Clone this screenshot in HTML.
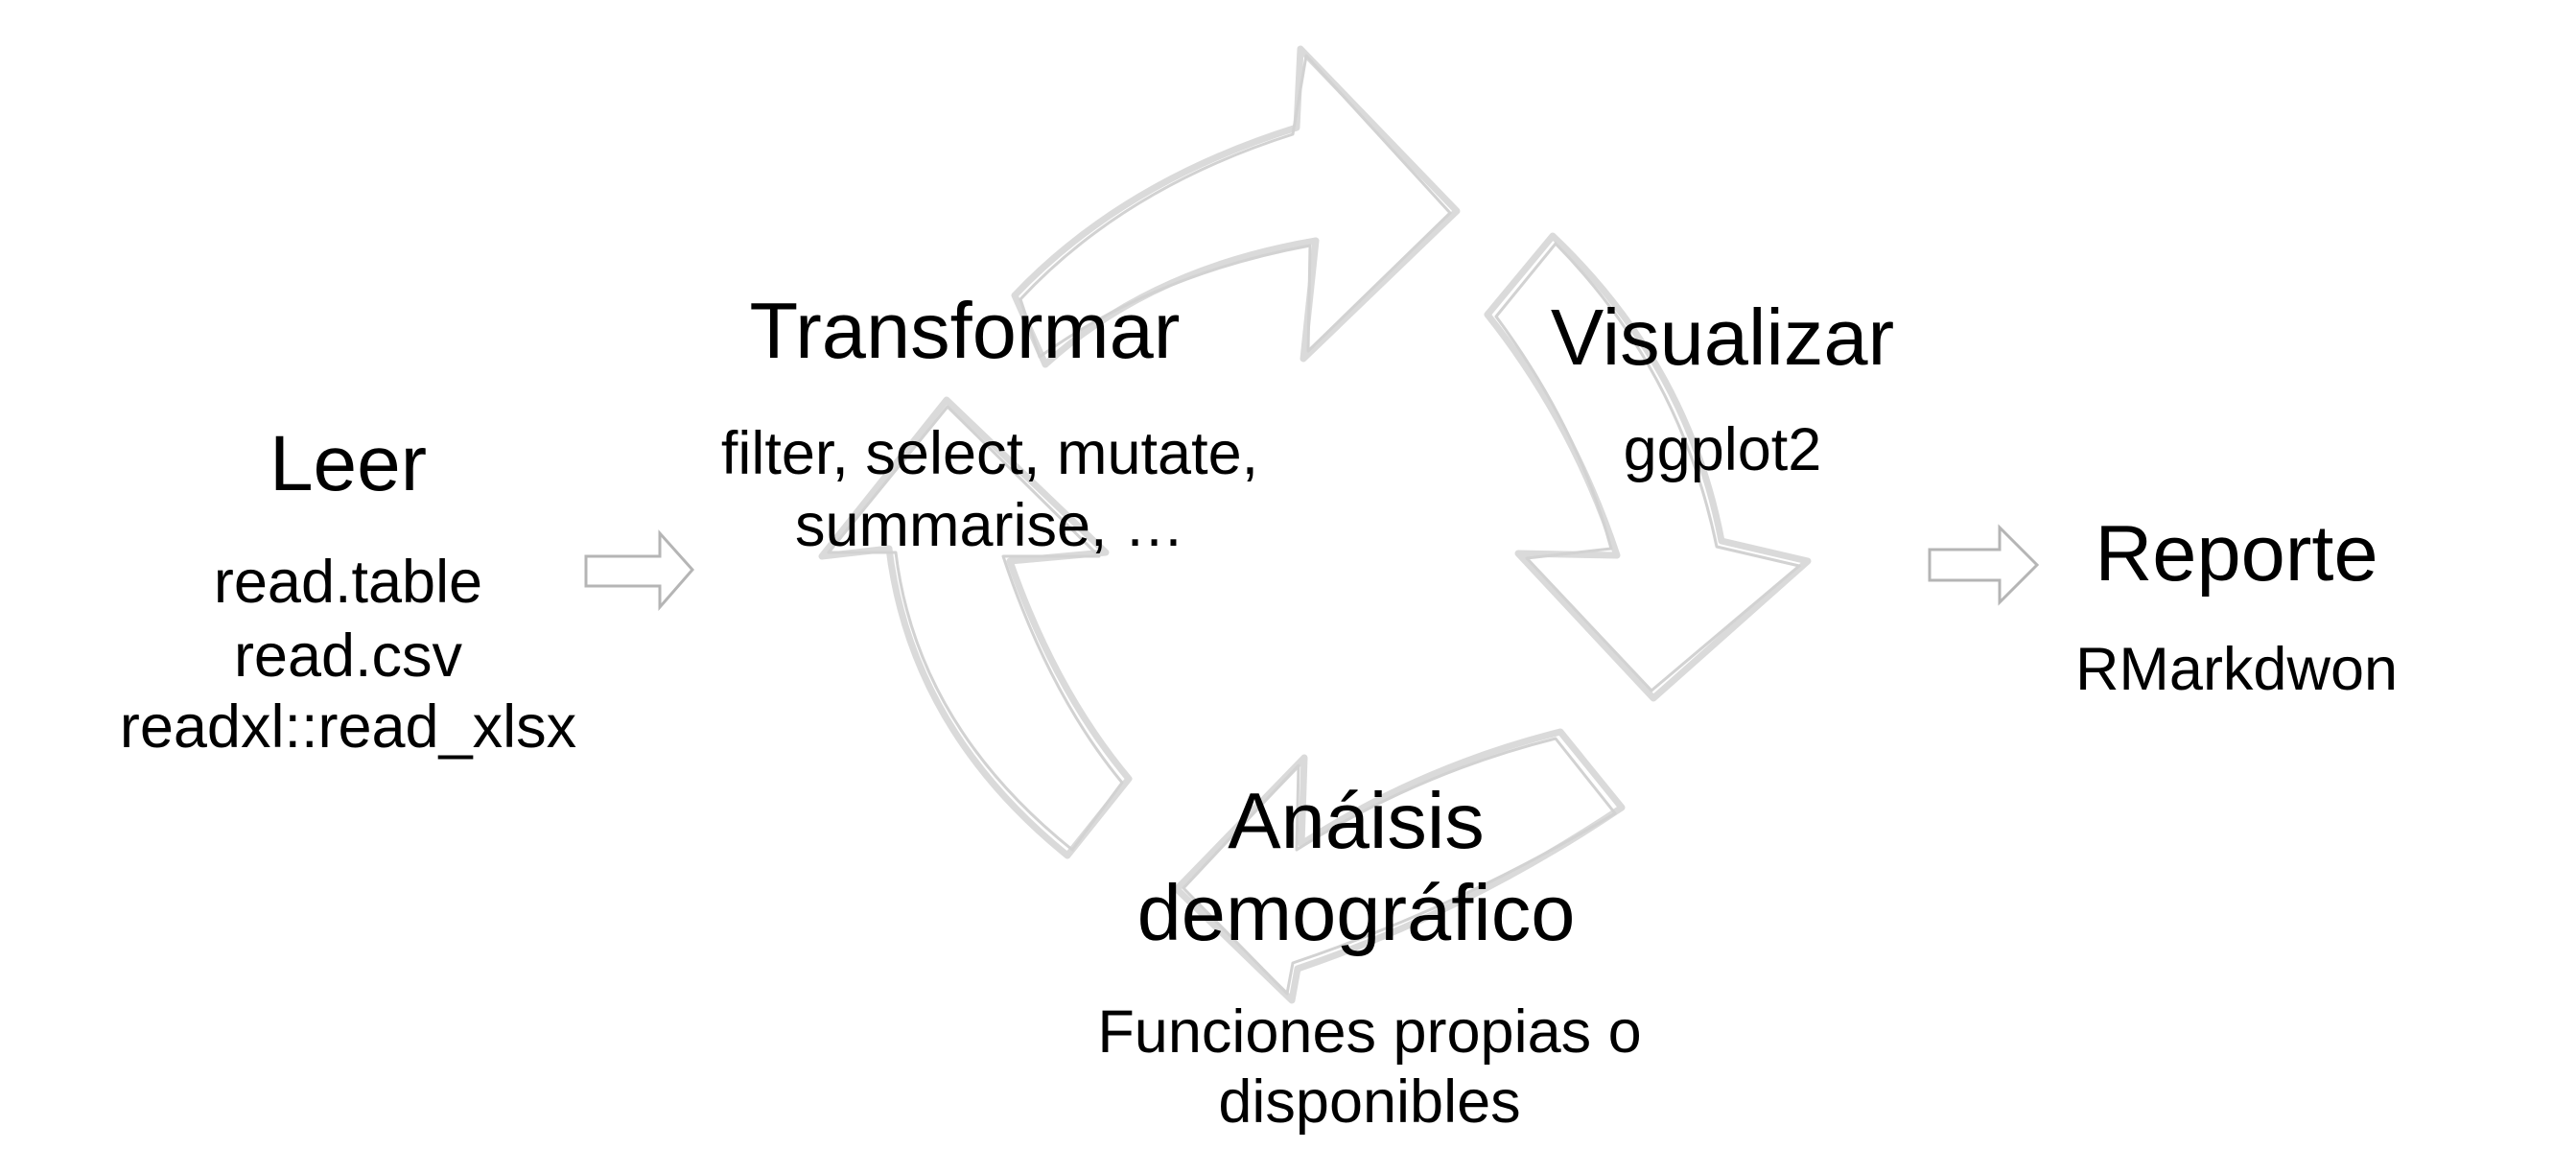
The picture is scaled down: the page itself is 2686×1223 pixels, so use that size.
<!DOCTYPE html>
<html><head><meta charset="utf-8"><style>
html,body{margin:0;padding:0;background:#fff;}
svg{display:block;}
text{font-family:"Liberation Sans",sans-serif;fill:#000;text-anchor:middle;}
</style></head><body>
<svg width="2686" height="1223" viewBox="0 0 2686 1223" xmlns="http://www.w3.org/2000/svg">
<g fill="none" stroke="#dadada" stroke-width="7" stroke-linejoin="round" stroke-linecap="round">
  <path d="M1058,308 Q1170,190 1352,133 L1356,51 L1519,220 L1359,374 L1372,251 Q1200,280 1090,380 Z"/>
  <path d="M1064,312 Q1172,196 1348,140 L1362,58 L1512,222 L1364,366 L1366,256 Q1204,286 1084,372 Z" stroke-width="3" stroke="#d2d2d2"/>
  <path d="M1619,246 L1551,328 Q1640,440 1686,579 L1583,577 L1724,728 L1885,585 L1795,564 Q1760,380 1619,246 Z"/>
  <path d="M1622,254 L1560,330 Q1646,446 1680,572 L1592,582 L1722,720 L1876,590 L1790,570 Q1752,386 1622,254 Z" stroke-width="3" stroke="#d2d2d2"/>
  <path d="M1627,763 Q1480,800 1357,880 L1360,790 L1227,927 L1347,1043 L1353,1010 Q1530,950 1691,842 Z"/>
  <path d="M1622,770 Q1478,806 1352,886 L1354,798 L1234,926 L1342,1036 L1348,1004 Q1526,944 1684,848 Z" stroke-width="3" stroke="#d2d2d2"/>
  <path d="M1177,812 Q1100,720 1053,585 L1153,576 L987,417 L857,580 L927,572 Q950,760 1113,892 Z"/>
  <path d="M1170,816 Q1094,724 1046,580 L1146,580 L988,424 L864,576 L934,576 Q956,756 1118,886 Z" stroke-width="3" stroke="#d2d2d2"/>
</g>
<g fill="#fff" stroke="#b5b5b5" stroke-width="3" stroke-linejoin="miter">
  <path d="M611,580 L688,580 L688,556 L722,594 L688,633 L688,611 L611,611 Z"/>
  <path d="M2012,573 L2085,573 L2085,550 L2124,589 L2085,628 L2085,605 L2012,605 Z"/>
</g>
<text x="363" y="511" font-size="82">Leer</text>
<text x="363" y="628" font-size="63">read.table</text>
<text x="363" y="705" font-size="63">read.csv</text>
<text x="363" y="779" font-size="63">readxl::read_xlsx</text>
<text x="1006" y="373" font-size="83">Transformar</text>
<text x="1032" y="494" font-size="63">filter, select, mutate,</text>
<text x="1032" y="569" font-size="63">summarise, …</text>
<text x="1796" y="380" font-size="83">Visualizar</text>
<text x="1796" y="490" font-size="63">ggplot2</text>
<text x="2332" y="605" font-size="83">Reporte</text>
<text x="2332" y="719" font-size="63">RMarkdwon</text>
<text x="1414" y="884" font-size="83">Anáisis</text>
<text x="1414" y="980" font-size="83">demográfico</text>
<text x="1428" y="1097" font-size="63">Funciones propias o</text>
<text x="1428" y="1170" font-size="63">disponibles</text>
</svg>
</body></html>
